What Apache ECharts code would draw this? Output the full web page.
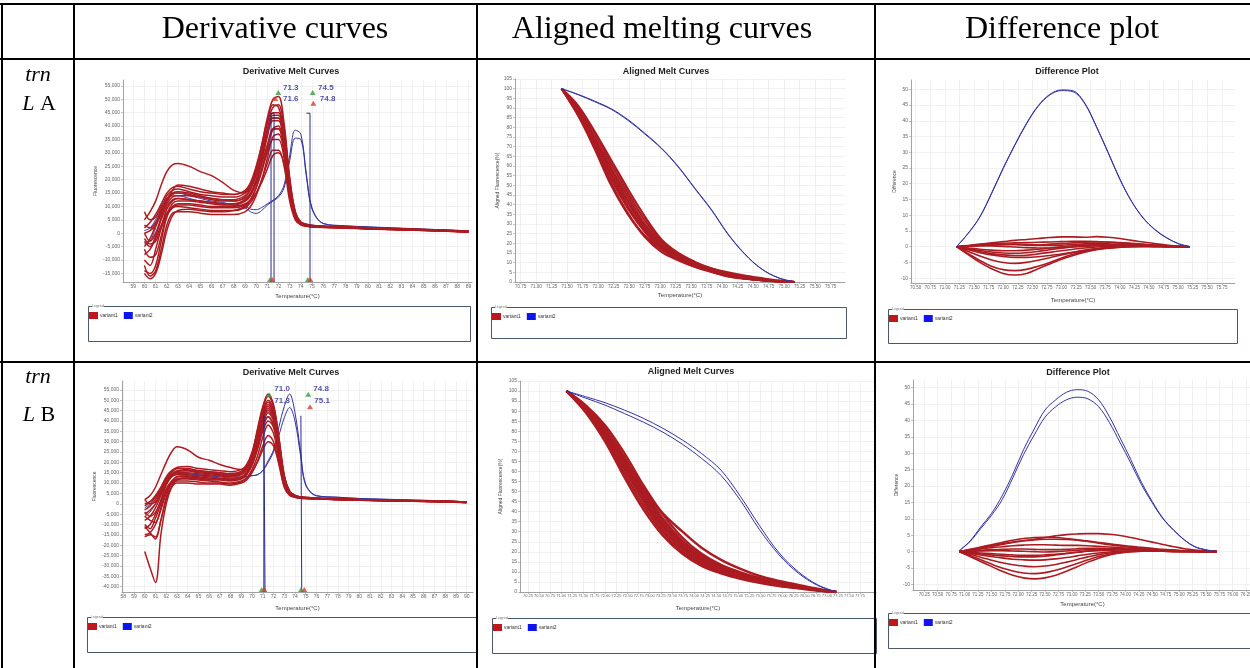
<!DOCTYPE html>
<html><head><meta charset="utf-8">
<script src="https://cdn.jsdelivr.net/npm/echarts@6/dist/echarts.min.js"></script>
<style>html,body{margin:0;padding:0;background:#fff}#c{width:1250px;height:668px}</style>
</head><body><div id="c"></div><script>
// ================= DATA =================
const colHeaders = ['Derivative curves', 'Aligned melting curves', 'Difference plot'];
const rowLabels = [['trn', 'L', 'A'], ['trn', 'L', 'B']];
const chartTitles = ['Derivative Melt Curves', 'Aligned Melt Curves', 'Difference Plot'];
const legendNames = ['variant1', 'variant2'];

// ---- tick labels ----
const derivTicksXA = [59,60,61,62,63,64,65,66,67,68,69,70,71,72,73,74,75,76,77,78,79,80,81,82,83,84,85,86,87,88,89];
const derivTicksXB = [58,59,60,61,62,63,64,65,66,67,68,69,70,71,72,73,74,75,76,77,78,79,80,81,82,83,84,85,86,87,88,89,90];
const derivTicksYA = [-15,-10,-5,0,5,10,15,20,25,30,35,40,45,50,55];          // thousands
const derivTicksYB = [-40,-35,-30,-25,-20,-15,-10,-5,0,5,10,15,20,25,30,35,40,45,50,55];
const alignedTicksY = [0,5,10,15,20,25,30,35,40,45,50,55,60,65,70,75,80,85,90,95,100,105];
const alignedTicksXA = [70.75,71,71.25,71.5,71.75,72,72.25,72.5,72.75,73,73.25,73.5,73.75,74,74.25,74.5,74.75,75,75.25,75.5,75.75];
const alignedTicksXB = [70.25,70.5,70.75,71,71.25,71.5,71.75,72,72.25,72.5,72.75,73,73.25,73.5,73.75,74,74.25,74.5,74.75,75,75.25,75.5,75.75,76,76.25,76.5,76.75,77,77.25,77.5,77.75];
const diffTicksXA = [70.5,70.75,71,71.25,71.5,71.75,72,72.25,72.5,72.75,73,73.25,73.5,73.75,74,74.25,74.5,74.75,75,75.25,75.5,75.75];
const diffTicksXB = [70.25,70.5,70.75,71,71.25,71.5,71.75,72,72.25,72.5,72.75,73,73.25,73.5,73.75,74,74.25,74.5,74.75,75,75.25,75.5,75.75,76,76.25];
const diffTicksY = [-10,-5,0,5,10,15,20,25,30,35,40,45,50];

// ---- Derivative melt curves, trnL A (fluorescence, thousands) ----
const derivTempA = [60,60.5,61,61.5,62,62.5,63,64,65,66,67,68,69,69.5,70,70.5,71,71.5,72,72.5,73,73.5,74,74.5,75,76,78,80,83,86,89];
const derivRedA = [
 [-5,-2,3,9,14,16,16.5,15.5,14.5,14,13.5,13.5,15,18,24,33,43,50,51,41,21,8,4.2,3.4,3.0,2.7,2.4,2.1,1.7,1.3,0.8],
 [2,4,7,11,15,17,17.5,16.5,15.5,15,14.5,14.5,16,19,25,33,42,48,47,38,19,7.5,4,3.3,2.9,2.6,2.3,2,1.6,1.2,0.7],
 [-10,-12,-6,2,9,12,13,12.5,12,11.5,11,11,12.5,15,20,28,37,44,44,35,17,6.5,3.7,3.1,2.7,2.5,2.2,1.9,1.5,1.1,0.7],
 [-14,-15,-12,-3,6,9.5,10.5,10.5,10,9.5,9.5,9.5,10.5,12.5,17,24,32,39,39,31,15,6,3.4,2.9,2.6,2.4,2.1,1.8,1.4,1,0.6],
 [8,5,6,10,13,15,15.5,15,14,13,12.5,12.5,14,16.5,22,29,37,42,42,33,16,6.5,3.8,3.1,2.7,2.5,2.2,1.9,1.5,1.1,0.7],
 [-3,-5,-1,5,10,12.5,13,12.5,12,11.5,11,11,12,14,18.5,24,30,35,35,28,14,5.5,3.3,2.8,2.5,2.3,2.1,1.8,1.4,1,0.6],
 [-8,-6,-2,3,7.5,9.5,10,9.5,9,8.5,8.5,8.5,9.5,11.5,15,20,26,31,31,25,12,5,3.1,2.6,2.3,2.1,1.9,1.6,1.3,1,0.6],
 [0,1,3,7,11,13.5,14,14,13.5,13,12.5,12,13.5,16.5,22,31,41,47,48,39,20,8,4.1,3.3,2.9,2.6,2.3,2,1.6,1.2,0.7],
 [-12,-16,-14,-6,3,7.5,8,8,7.5,7,7,7,8,10,14,20,28,36,37,30,14,5.5,3.2,2.7,2.4,2.2,2,1.7,1.3,0.9,0.5],
 [5,8,12,18,23,25.5,26,25,23,21.5,19,16,15,17,22,30,39,45,45,36,18,7,3.9,3.2,2.8,2.5,2.2,1.9,1.5,1.1,0.7],
 [-6,-9,-8,-1,7,11,12,12,11.5,11,10.5,10.5,12,14.5,19.5,27,36,43,43,34,16.5,6.5,3.6,3,2.7,2.4,2.1,1.8,1.4,1,0.6],
 [3,2,4,8,12,14.5,15,14.5,13.5,12.5,12,12,13,15,19.5,26,33,38.5,39,31,15,6,3.5,2.9,2.6,2.4,2.1,1.8,1.4,1,0.6],
 [-15,-17,-15,-8,1,6.5,8.5,9,8.5,8,8,8.5,10,12.5,17,23,31,39,40,32,15,6,3.4,2.8,2.5,2.3,2,1.7,1.3,0.9,0.5],
 [0,-3,0,6,12,16,18,17.5,16.5,15.5,15,14.5,15.5,18,23,30,38,43,43,34,16,6.5,3.8,3.1,2.8,2.5,2.2,1.9,1.5,1.1,0.7],
 [-2,-4,-3,2,7,10,11,11,10.5,10,10,10,11,12.5,15,19,24,29,30,26,14,5.5,3.2,2.7,2.4,2.2,2,1.7,1.3,0.9,0.6]
];
const derivBlueA = [
 [-4,-3,2,8,12,14,14,13,12,11.5,11,10.5,10,9,8.8,9.6,11,12.3,14,18,29,38.5,37,22,9.5,3.7,2.8,2.4,1.9,1.4,0.9],
 [1,2,5,9,12.5,14.5,15,14,13,12,11.5,10.5,9.5,8,7.4,8.5,10.5,12,13.5,17,27,35.5,35,21,9,3.6,2.7,2.3,1.8,1.3,0.8]
];
const tmLinesA = [[71.33, 71.6], [74.5, 74.82]];   // Tm marker lines (temperature)
const tmLineTopA = 44.8;
const tmTextA = ['71.3', '71.6', '74.5', '74.8'];
const tmTextPosA = [[72.4, 54.2], [72.4, 50.1], [75.54, 54.2], [75.7, 50.1]];
const tmTopMarksA = [[71.98, 52.5, 'g'], [71.7, 50.3, 'r'], [75.06, 52.5, 'g'], [75.12, 48.5, 'r']];
const tmBottomMarksA = [[71.24, 'g'], [71.45, 'r'], [74.62, 'g'], [74.85, 'r']];

// ---- Derivative melt curves, trnL B ----
const derivTempB = [60,60.5,61,61.5,62,62.5,63,64,65,66,67,68,69,69.5,70,70.5,71,71.5,72,72.5,73,73.5,74,74.5,75,76,78,80,84,88,90];
const derivRedB = [
 [-5,-3,0,5,11,15,17,17,16,15.5,15,14.5,15.5,18,24,35,46,52,47,32,14,6,4,3.3,3,2.7,2.4,2.1,1.6,1.2,0.8],
 [-12,-10,-5,2,9,13,14,14,13.5,13,12.5,12,13,15,20,29,40,46,42,28,12,5.5,3.6,3,2.8,2.5,2.2,1.9,1.5,1.1,0.7],
 [0,1,3,7,12,15.5,17.5,18,17,16.5,16,15.5,16.5,19,25,35,45,50,45,30,13,6,4,3.3,3,2.7,2.4,2.1,1.6,1.2,0.8],
 [-15,-14,-10,-3,5,9.5,11,11,10.5,10,10,9.5,10.5,12.5,16.5,23,32,38,34,22,9.5,4.5,3.4,2.8,2.6,2.4,2.1,1.8,1.4,1,0.6],
 [-8,-6,-2,4,10,13.5,15,15,14.5,14,13.5,13,14,16,21,30,40,45,41,27,11.5,5.5,3.7,3,2.8,2.5,2.2,1.9,1.5,1.1,0.7],
 [2,4,8,14,20,25,27.5,26,22.5,21,19,17.5,16.5,18,23,32,42,47,43,29,12.5,6,4,3.3,3,2.7,2.4,2.1,1.6,1.2,0.8],
 [-23,-31,-38,-15,0,8,11.5,12.5,12.5,12,12,11.5,12.5,14.5,19,27,37,42,38,25,10.5,5,3.5,2.9,2.7,2.4,2.1,1.8,1.4,1,0.6],
 [-10,-12,-7,0,7,11,13,13.5,13,12.5,12,12,13,15,19.5,28,37,42,38,25,10.5,5,3.5,2.9,2.7,2.4,2.1,1.8,1.4,1,0.6],
 [-3,-1,2,6,11,14,16,16,15,14.5,14,13.5,14.5,17,22,32,43,48,44,29,12.5,6,3.9,3.2,2.9,2.6,2.3,2,1.6,1.1,0.7],
 [-16,-15,-16,-8,2,8,10,10,9.5,9.5,9.5,9,10,11.5,15,20.5,28,33,30,20,8.5,4.3,3.2,2.7,2.5,2.3,2,1.7,1.3,0.9,0.6],
 [2,0,1,5,10,13.5,15.5,16,15.5,15,14.5,14,15,17.5,23,33,44,49,45,30,13,6,4,3.2,2.9,2.6,2.3,2,1.6,1.1,0.7],
 [-6,-8,-9,-2,6,10,12,12.5,12,11.5,11.5,11,12,14,18.5,26,35,40,37,24,10,5,3.5,2.9,2.7,2.4,2.1,1.8,1.4,1,0.6],
 [-11,-14,-17,-8,3,10,13,13,12.5,12,12,11.5,12.5,14.5,19.5,28,38,44,40,26,11,5.5,3.7,3,2.8,2.5,2.2,1.9,1.5,1.1,0.7],
 [-1,1,4,8,13,16,17,16.5,16,15.5,15,14.5,15.5,18,24,36,47,53,48,32,13.5,6,4,3.3,3,2.7,2.4,2.1,1.6,1.2,0.8],
 [-4,-6,-4,1,7,10.5,12,12,11.5,11,10.5,10,11,12.5,15.5,20,26,30,28,19,8,4,3.1,2.7,2.5,2.3,2,1.7,1.3,0.9,0.6]
];
const derivBlueB = [
 [-6,-4,0,5,10,13,14.5,14.5,14,13.5,13.5,13,13,13.2,13.6,14,16,20.8,26,37,47,53,44,26,9.6,4,3.2,2.6,2,1.4,0.9],
 [-2,0,3,7,11,13.5,14.5,14.5,14,13.5,13,12.5,12.5,13,13.6,14,16,20,25,33,41.5,46.5,40,24,9,3.8,3.1,2.5,1.9,1.3,0.8]
];
const tmLinesB = [[71.1, 71.21], [74.55, 74.63]];
const tmLineTopB = 42.5;
const tmTextB = ['71.0', '71.3', '74.8', '75.1'];
const tmTextPosB = [[72.07, 55.3], [72.07, 49.7], [75.71, 55.3], [75.8, 49.7]];
const tmTopMarksB = [[71.61, 52.5, 'g'], [75.24, 52.9, 'g'], [75.4, 46.9, 'r']];
const tmBottomMarksB = [[70.9, 'g'], [71.14, 'r'], [74.56, 'g'], [74.87, 'r']];

// ---- Aligned melt curves (%), trnL A ----
const alignedTempA = [71.41,71.68,71.94,72.21,72.48,72.75,73.02,73.29,73.56,73.83,74.09,74.36,74.63,74.90,75.17];
const alignedRedA = [
 [100,91,78,63,48,34,22,15,10.4,6.9,4.3,2.6,1.4,0.5,0],
 [100,90,77,61,46,32,21,14,9.8,6.5,4.0,2.4,1.3,0.5,0],
 [100,89,75,59,44,30,20,13.5,9.3,6.2,3.8,2.2,1.2,0.4,0],
 [100,88.5,74,58,42,29,19,13,9,6,3.6,2.1,1.1,0.4,0],
 [100,88,73,56,41,28,18.5,12.5,8.6,5.7,3.4,2.0,1.0,0.4,0],
 [100,87.5,72,55,39,27,18,12,8.3,5.5,3.2,1.9,1.0,0.3,0],
 [100,87,71,53,38,26,17,11.8,8,5.3,3.1,1.8,0.9,0.3,0],
 [100,86,70,51,35.5,23.4,15.6,11.3,7.8,5.2,2.9,1.7,0.9,0.3,0],
 [100,86,69,50,35,24,17,12.5,9.5,7,5,3.3,2,0.8,0]
];
const alignedBlueA = [
 [100,97,93.6,89.6,84,77,69.3,59.8,48.5,37.3,25,14.7,6.9,2.3,0],
 [100,96.8,93.3,89.3,83.6,76.6,69,59.5,48.2,37,24.8,14.5,6.8,2.2,0]
];

// ---- Aligned melt curves (%), trnL B ----
const alignedTempB = [71.12,71.55,71.99,72.43,72.86,73.30,73.74,74.17,74.61,75.05,75.48,75.92,76.36,76.79,77.21];
const alignedRedB = [
 [100,93,83,69,53,38.5,27,19,13.5,9.8,7.0,4.8,3.0,1.3,0],
 [100,92.5,81.5,67,51,36.5,25.5,18,12.8,9.3,6.6,4.5,2.8,1.2,0],
 [100,92,80.5,65.5,49.5,35,24.5,17.2,12.2,8.8,6.3,4.3,2.6,1.1,0],
 [100,91.5,79.5,64,48,33.5,23.5,16.5,11.7,8.4,6.0,4.1,2.5,1.0,0],
 [100,91,78.5,62.5,46.5,32.5,22.5,15.8,11.2,8.0,5.7,3.9,2.3,1.0,0],
 [100,90.5,77.5,61,45,31,21.5,15,10.7,7.6,5.4,3.6,2.2,0.9,0],
 [100,90,76,59,43,29.5,20.2,14,10,7.1,5,3.3,2,0.8,0],
 [100,89.5,75,57,41,28,19,13,9.3,6.6,4.6,3.0,1.8,0.7,0],
 [100,92,81,66,51,39,30,22,16,11.5,8,5.5,3.5,1.6,0]
];
const alignedBlueB = [
 [100,97.2,94.2,90.5,86.4,81.4,75.6,68.9,60.6,47.5,33,19.5,10,3.6,0],
 [100,96.5,93,88.8,84.5,79.5,73.5,66.5,58,45.5,31,18.5,9.3,3.3,0]
];

// ---- Difference plot, trnL A ----
const diffTempA = [71.2,71.4,71.6,71.8,72.0,72.2,72.4,72.6,72.8,73.0,73.2,73.4,73.6,73.8,74.0,74.2,74.4,74.6,74.8,75.0,75.2];
const diffRedA = [
 [0,-2.5,-5,-7,-8.5,-9,-8.5,-7,-5.5,-4,-2.8,-1.8,-1,-0.5,-0.2,0,0.1,0.1,0.1,0,0],
 [0,-2.2,-4.4,-6.2,-7.3,-7.6,-7.2,-6.2,-5,-3.6,-2.4,-1.5,-0.8,-0.3,0,0.1,0.1,0.1,0,0,0],
 [0,-1.5,-3,-4.2,-5,-5.3,-5,-4.3,-3.5,-2.6,-1.8,-1.1,-0.6,-0.2,0,0.1,0.1,0,0,0,0],
 [0,-0.8,-1.6,-2.2,-2.6,-2.8,-2.7,-2.3,-1.8,-1.3,-0.8,-0.4,-0.1,0.1,0.2,0.2,0.2,0.1,0.1,0,0],
 [0,-0.4,-0.8,-1.1,-1.3,-1.3,-1.1,-0.8,-0.4,0,0.3,0.5,0.6,0.6,0.5,0.4,0.3,0.2,0.1,0.05,0],
 [0,0.2,0.4,0.5,0.6,0.6,0.5,0.4,0.4,0.5,0.7,0.9,1.0,0.9,0.8,0.6,0.5,0.3,0.2,0.1,0],
 [0,0.3,0.6,0.9,1.1,1.2,1.3,1.4,1.5,1.6,1.7,1.7,1.6,1.4,1.2,0.9,0.7,0.5,0.3,0.1,0],
 [0,0.4,0.8,1.2,1.6,2.0,2.3,2.6,2.9,3.1,3.1,3.0,3.2,3.0,2.6,2.0,1.5,1.0,0.5,0.2,0],
 [0,-1,-1.9,-2.6,-3.1,-3.4,-3.4,-3.2,-2.8,-2.3,-1.8,-1.3,-0.8,-0.4,-0.1,0.1,0.2,0.2,0.1,0,0],
 [0,0.1,0.2,0.2,0.1,-0.1,-0.3,-0.4,-0.4,-0.3,-0.1,0.1,0.3,0.4,0.4,0.4,0.3,0.2,0.1,0.05,0],
 [0,-0.6,-1.2,-1.7,-2,-2.1,-1.9,-1.5,-1.0,-0.5,0,0.3,0.5,0.6,0.6,0.5,0.4,0.3,0.2,0.1,0],
 [0,0.3,0.5,0.7,0.8,0.8,0.7,0.6,0.8,1.0,1.2,1.4,1.5,1.5,1.3,1.1,0.8,0.5,0.3,0.1,0]
];
const diffBlueA = [
 [0,4.3,9.5,17,25,32.4,39.2,44.8,48.4,49.8,49.5,45.6,38.2,30,21.6,14.5,9.2,5.5,2.9,1.0,0],
 [0,4.2,9.4,16.8,24.8,32.2,39.0,44.6,48.2,49.6,49.2,45.4,38.0,29.8,21.4,14.4,9.1,5.4,2.8,1.0,0]
];

// ---- Difference plot, trnL B ----
const diffTempB = [70.9,71.1,71.3,71.5,71.7,71.9,72.1,72.3,72.5,72.7,72.9,73.1,73.3,73.5,73.7,73.9,74.1,74.3,74.5,74.7,74.9,75.1,75.3,75.5,75.7];
const diffRedB = [
 [0,-1.5,-3,-4.5,-6,-7.2,-8,-8.3,-8,-7.2,-6,-4.6,-3.2,-2,-1,-0.4,0,0.1,0.1,0.1,0,0,0,0,0],
 [0,-1.2,-2.5,-3.8,-5,-5.9,-6.5,-6.7,-6.4,-5.7,-4.7,-3.6,-2.5,-1.5,-0.8,-0.3,0,0.1,0.1,0.1,0,0,0,0,0],
 [0,-0.8,-1.7,-2.6,-3.4,-4,-4.4,-4.6,-4.4,-3.9,-3.2,-2.4,-1.6,-0.9,-0.4,-0.1,0.1,0.2,0.2,0.1,0.1,0,0,0,0],
 [0,-0.5,-1,-1.5,-1.9,-2.3,-2.5,-2.6,-2.5,-2.2,-1.8,-1.3,-0.8,-0.4,-0.1,0.1,0.2,0.3,0.2,0.2,0.1,0.1,0,0,0],
 [0,-0.2,-0.4,-0.6,-0.8,-1,-1.1,-1.1,-1,-0.8,-0.5,-0.2,0.1,0.3,0.4,0.5,0.5,0.4,0.4,0.3,0.2,0.1,0.1,0,0],
 [0,0.2,0.4,0.6,0.7,0.8,0.8,0.7,0.6,0.6,0.7,0.9,1.0,1.0,0.9,0.8,0.7,0.6,0.5,0.4,0.3,0.2,0.1,0.05,0],
 [0,0.4,0.8,1.2,1.5,1.8,2.0,2.1,2.1,2.0,1.9,1.9,1.8,1.6,1.4,1.2,1.0,0.8,0.6,0.5,0.3,0.2,0.1,0.05,0],
 [0,0.6,1.2,1.8,2.4,2.9,3.3,3.6,3.8,3.8,3.7,3.5,3.2,2.8,2.4,2.0,1.6,1.3,1.0,0.7,0.5,0.3,0.2,0.1,0],
 [0,0.5,1.0,1.6,2.2,2.8,3.3,3.8,4.3,4.8,5.2,5.4,5.5,5.5,5.3,4.9,4.3,3.6,2.9,2.2,1.5,0.9,0.5,0.2,0],
 [0,0.7,1.4,2.1,2.8,3.5,4.0,4.3,4.4,4.3,4.0,3.6,3.1,2.6,2.1,1.7,1.3,1.0,0.7,0.5,0.3,0.2,0.1,0.05,0],
 [0,-0.3,-0.7,-1.0,-1.3,-1.5,-1.6,-1.6,-1.4,-1.0,-0.6,-0.2,0.2,0.5,0.6,0.6,0.6,0.5,0.4,0.3,0.2,0.1,0.1,0,0],
 [0,0.1,0.2,0.3,0.3,0.2,0.1,0,-0.1,0,0.2,0.4,0.6,0.8,0.9,0.9,0.8,0.7,0.6,0.4,0.3,0.2,0.1,0.05,0]
];
const diffBlueB = [
 [0.3,3.2,7.5,11.6,17.0,23.6,31.1,37.4,43.2,46.3,48.6,49.4,48.9,46.3,41.2,34.7,28.1,21.1,15.3,10.2,6.6,3.6,1.5,0.6,0],
 [0.3,3.0,7.0,11.0,15.8,22.5,29.6,35.6,41.0,44.2,46.3,47.1,46.6,44.2,39.4,33.3,27.0,20.4,14.9,10.0,6.5,3.5,1.4,0.5,0]
];

// ================= LAYOUT / STYLE =================
const RED = '#ab1c22', BLUE = '#3434a0', NAVY = '#2a2a8e';
const GREEN_MK = '#3a9e3f', RED_MK = '#d8392c';
const FONT = '"Liberation Sans", Arial, sans-serif';
const SERIF = '"Liberation Serif", "Times New Roman", serif';

const grids = [
  {left: 123, top: 80, width: 349, height: 202},
  {left: 515, top: 79, width: 330, height: 203},
  {left: 911, top: 80, width: 324, height: 203},
  {left: 122, top: 381, width: 351, height: 211},
  {left: 520, top: 381, width: 356, height: 211},
  {left: 913, top: 380, width: 339, height: 210}
].map(g => Object.assign({outerBoundsMode: 'none', containLabel: false}, g));

const fmtInt = v => String(v);
const fmt2 = v => v.toFixed(2);
const fmtK = v => { const n = Math.round(v * 1000); return String(n).replace(/\B(?=(\d{3})+(?!\d))/g, ','); };

function xAx(gi, min, max, ticks, fmt, fs, gap) {
  return {
    type: 'value', gridIndex: gi, min, max,
    name: 'Temperature(°C)', nameLocation: 'middle', nameGap: gap,
    nameTextStyle: {fontSize: 6, color: '#444', fontFamily: FONT},
    axisLine: {show: true, onZero: false, lineStyle: {color: '#8c8c8c', width: 0.8}},
    axisTick: {show: true, customValues: ticks, length: 2, lineStyle: {color: '#9a9a9a', width: 0.6}},
    axisLabel: {customValues: ticks, formatter: fmt, fontSize: fs, color: '#666', margin: 2, fontFamily: FONT},
    splitLine: {show: true, lineStyle: {color: '#ebebeb', width: 0.7}}
  };
}
function yAx(gi, min, max, ticks, fmt, name, gap) {
  return {
    type: 'value', gridIndex: gi, min, max,
    name, nameLocation: 'middle', nameGap: gap,
    nameTextStyle: {fontSize: 5, color: '#444', fontFamily: FONT},
    axisLine: {show: true, onZero: false, lineStyle: {color: '#8c8c8c', width: 0.8}},
    axisTick: {show: true, customValues: ticks, length: 2, lineStyle: {color: '#9a9a9a', width: 0.6}},
    axisLabel: {customValues: ticks, formatter: fmt, fontSize: 5, color: '#666', margin: 3, fontFamily: FONT},
    splitLine: {show: true, lineStyle: {color: '#ebebeb', width: 0.7}}
  };
}

const xAxes = [
  xAx(0, 58.08, 89.32, derivTicksXA, fmtInt, 5, 11),
  xAx(1, 70.658, 75.98, alignedTicksXA, fmt2, 4.5, 10),
  xAx(2, 70.419, 75.976, diffTicksXA, fmt2, 4.5, 14),
  xAx(3, 57.88, 90.59, derivTicksXB, fmtInt, 5, 13),
  xAx(4, 70.07, 78.11, alignedTicksXB, fmt2, 4, 13),
  xAx(5, 70.039, 76.36, diffTicksXB, fmt2, 4.5, 11)
];
const yAxes = [
  yAx(0, -18.2, 57.2, derivTicksYA, fmtK, 'Fluorescence', 25),
  yAx(1, 0, 105, alignedTicksY, fmtInt, 'Aligned Fluorescence(%)', 14),
  yAx(2, -11.54, 52.96, diffTicksY, fmtInt, 'Difference', 14),
  yAx(3, -42.6, 59.3, derivTicksYB, fmtK, 'Fluorescence', 25),
  yAx(4, 0, 105, alignedTicksY, fmtInt, 'Aligned Fluorescence(%)', 17),
  yAx(5, -11.7, 52.35, diffTicksY, fmtInt, 'Difference', 14)
];

const series = [];
function addCurves(gi, xs, sets, name, color, width, z) {
  sets.forEach(ys => {
    series.push({
      type: 'line', name, xAxisIndex: gi, yAxisIndex: gi,
      data: xs.map((x, i) => [x, ys[i]]),
      smooth: 0.35, symbol: 'none', showSymbol: false, silent: true,
      lineStyle: {color, width}, itemStyle: {color}, z
    });
  });
}
addCurves(0, derivTempA, derivBlueA, 'variant2', BLUE, 1, 2);
addCurves(0, derivTempA, derivRedA, 'variant1', RED, 1.5, 3);
addCurves(1, alignedTempA, alignedRedA, 'variant1', RED, 2.2, 2);
addCurves(1, alignedTempA, alignedBlueA, 'variant2', BLUE, 1, 3);
addCurves(2, diffTempA, diffRedA, 'variant1', RED, 1.6, 2);
addCurves(2, diffTempA, diffBlueA, 'variant2', BLUE, 1, 3);
addCurves(3, derivTempB, derivBlueB, 'variant2', BLUE, 1, 2);
addCurves(3, derivTempB, derivRedB, 'variant1', RED, 1.5, 3);
addCurves(4, alignedTempB, alignedRedB, 'variant1', RED, 2.4, 2);
addCurves(4, alignedTempB, alignedBlueB, 'variant2', BLUE, 1, 3);
addCurves(5, diffTempB, diffRedB, 'variant1', RED, 1.6, 2);
addCurves(5, diffTempB, diffBlueB, 'variant2', BLUE, 1, 3);

function addTm(gi, lines, top, ymin, texts, textPos, topMarks, bottomMarks) {
  const [a, b] = lines;
  series.push({type: 'line', xAxisIndex: gi, yAxisIndex: gi, silent: true, symbol: 'none', z: 4,
    data: [[a[0], ymin], [a[0], top], [a[1], top], [a[1], ymin]], lineStyle: {color: NAVY, width: 1}});
  series.push({type: 'line', xAxisIndex: gi, yAxisIndex: gi, silent: true, symbol: 'none', z: 4,
    data: [[b[0], top], [b[1], top], [b[1], ymin]], lineStyle: {color: NAVY, width: 1}});
  series.push({type: 'scatter', xAxisIndex: gi, yAxisIndex: gi, silent: true, z: 6,
    symbol: 'triangle', symbolSize: [6, 5],
    data: topMarks.map(m => ({value: [m[0], m[1]], itemStyle: {color: m[2] === 'g' ? GREEN_MK : RED_MK}}))});
  series.push({type: 'scatter', xAxisIndex: gi, yAxisIndex: gi, silent: true, z: 6,
    symbol: 'triangle', symbolSize: [6, 5], symbolOffset: [0, -2.5],
    data: bottomMarks.map(m => ({value: [m[0], ymin], itemStyle: {color: m[1] === 'g' ? GREEN_MK : RED_MK}}))});
  series.push({type: 'scatter', xAxisIndex: gi, yAxisIndex: gi, silent: true, z: 7, symbolSize: 0,
    data: textPos.map((p, i) => ({value: p, label: {show: true, formatter: texts[i]}})),
    label: {position: 'right', distance: 0, fontSize: 8, fontWeight: 'bold', color: '#26269a', fontFamily: FONT}});
}
addTm(0, tmLinesA, tmLineTopA, -18.2, tmTextA, tmTextPosA, tmTopMarksA, tmBottomMarksA);
addTm(3, tmLinesB, tmLineTopB, -42.6, tmTextB, tmTextPosB, tmTopMarksB, tmBottomMarksB);

// legend boxes [x0, y0, x1, y1]
const legendBoxes = [[88, 306, 470, 341], [491, 307, 846, 338], [888, 309, 1237, 343],
                     [87, 617, 476, 652], [492, 618, 876, 653], [888, 613, 1252, 648]];
const legends = legendBoxes.map(b => ({
  left: b[0] + 1, top: b[1] + 6, orient: 'horizontal', padding: 0, itemGap: 6,
  itemWidth: 9, itemHeight: 7, icon: 'rect', selectedMode: false,
  data: [{name: legendNames[0], itemStyle: {color: '#c1161c'}}, {name: legendNames[1], itemStyle: {color: '#0b16ee'}}],
  textStyle: {fontSize: 5, color: '#333', fontFamily: FONT, padding: [0, 0, 0, -3]}
}));

const graphic = [];
legendBoxes.forEach(b => {
  graphic.push({type: 'rect', shape: {x: b[0] + 0.5, y: b[1] + 0.5, width: b[2] - b[0], height: b[3] - b[1]},
    style: {fill: 'none', stroke: '#4c5866', lineWidth: 1}, z: 1});
  graphic.push({type: 'text', x: b[0] + 4, y: b[1] - 2,
    style: {text: 'Legend', font: '3.5px ' + FONT, fill: '#777', backgroundColor: '#fff'}, z: 2});
});
const titlePos = [[291, 72], [666, 72], [1067, 72], [291, 372.5], [691, 372], [1078, 373]];
titlePos.forEach((p, i) => graphic.push({type: 'text', x: p[0], y: p[1],
  style: {text: chartTitles[i % 3], font: 'bold 9px ' + FONT, fill: '#1e1e1e', align: 'center', verticalAlign: 'middle'}, z: 5}));
const headerX = [275, 662, 1062];
headerX.forEach((x, i) => graphic.push({type: 'text', x, y: 30,
  style: {text: colHeaders[i], font: '32px ' + SERIF, fill: '#000', align: 'center', verticalAlign: 'middle'}, z: 5}));
const rowY = [[75, 104], [377, 415]];
rowLabels.forEach((r, i) => {
  graphic.push({type: 'text', x: 38, y: rowY[i][0],
    style: {text: r[0], font: 'italic 22px ' + SERIF, fill: '#000', align: 'center', verticalAlign: 'middle'}, z: 5});
  graphic.push({type: 'text', x: 39, y: rowY[i][1],
    style: {text: '{i|' + r[1] + '} ' + r[2], font: '22px ' + SERIF, fill: '#000', align: 'center', verticalAlign: 'middle',
      rich: {i: {fontStyle: 'italic', fontSize: 22, fontFamily: SERIF}}}, z: 5});
});
const tableLines = [[0, 4, 1250, 4], [0, 59, 1250, 59], [0, 362, 1250, 362],
                    [2, 3, 2, 668], [74, 3, 74, 668], [477, 3, 477, 668], [875, 3, 875, 668]];
tableLines.forEach(l => graphic.push({type: 'line', shape: {x1: l[0], y1: l[1], x2: l[2], y2: l[3]},
  style: {stroke: '#000', lineWidth: 2}, z: 100}));

const chart = echarts.init(document.getElementById('c'), null, {renderer: 'canvas'});
chart.setOption({
  animation: false, backgroundColor: '#fff',
  grid: grids, xAxis: xAxes, yAxis: yAxes, series, legend: legends, graphic
});
</script></body></html>
